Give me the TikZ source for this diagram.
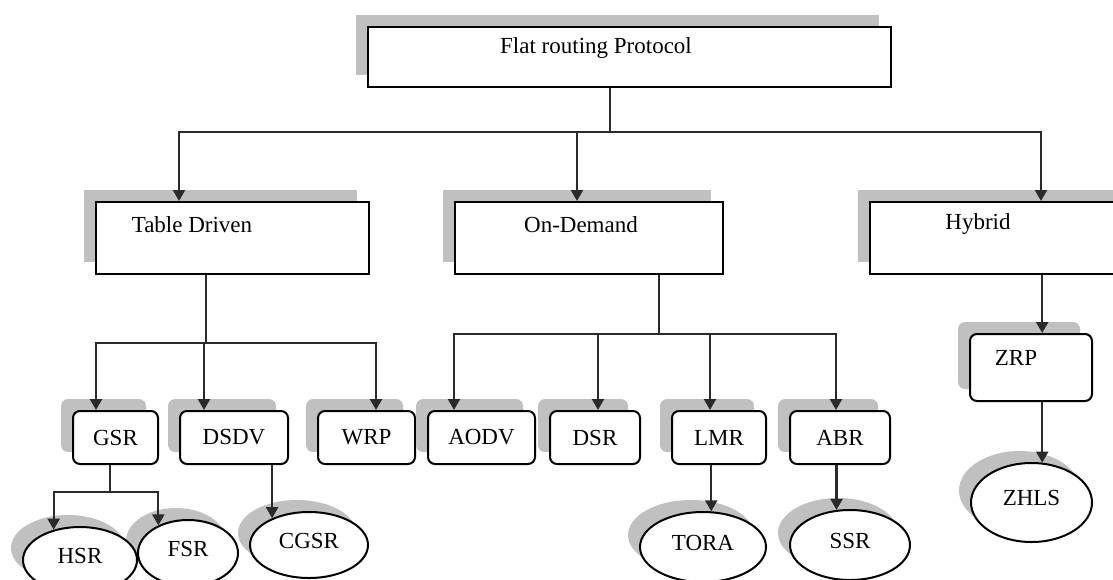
\documentclass[tikz,border=0pt]{standalone}
\usepackage{fontspec}
\setmainfont{Liberation Serif}
\usetikzlibrary{arrows.meta,shapes.geometric,shadows}
\definecolor{shadowgray}{HTML}{C0C0C0}
\definecolor{wiregray}{HTML}{2A2A2A}

\begin{document}
\begin{tikzpicture}[x=1pt,y=-1pt,>={Triangle[length=11pt,width=12pt]}]
\tikzset{every node/.style={font=\fontsize{23}{26}\selectfont},
 grayback/.style={drop shadow={shadow xshift=-12pt,shadow yshift=12pt,fill=shadowgray,opacity=1}},
 box/.style={draw=black,line width=2pt,fill=white,inner sep=0pt,grayback},
 rbox/.style={box,rounded corners=7pt,minimum height=53},
 oval/.style={box,ellipse,text depth=9pt},
 wire/.style={draw=wiregray,line width=2.2pt}}
\useasboundingbox (0,0) rectangle (1113,579);
\clip (0,0) rectangle (1113,579);

\node[box,minimum width=523,minimum height=60] (flat) at (629.5,57) {};
\node (flattext) at (596,48) {Flat routing Protocol};
\node[box,minimum width=273,minimum height=72] (td) at (232.5,238) {};
\node (tdtext) at (192,225) {Table Driven};
\node[box,minimum width=268,minimum height=72] (od) at (589,238) {};
\node (odtext) at (581,225) {On-Demand};
\node[box,minimum width=270,minimum height=72] (hy) at (1005,238) {};
\node (hytext) at (978,224) {Hybrid};

\node[rbox,minimum width=85] (gsr) at (115.5,437.5) {GSR};
\node[rbox,minimum width=108] (dsdv) at (234,437.5) {DSDV};
\node[rbox,minimum width=97] (wrp) at (366.5,437.5) {WRP};
\node[rbox,minimum width=107] (aodv) at (481.5,437.5) {AODV};
\node[rbox,minimum width=90] (dsr) at (595,437.5) {DSR};
\node[rbox,minimum width=94] (lmr) at (719,437.5) {LMR};
\node[rbox,minimum width=100] (abr) at (840,437.5) {ABR};
\node[rbox,minimum width=122,minimum height=67] (zrp) at (1031,367.5) {};
\node (zrptext) at (1016,358) {ZRP};

\node[oval,minimum width=100,minimum height=66] (fsr) at (188,553) {FSR};
\node[oval,minimum width=114,minimum height=66] (hsr) at (80,560) {HSR};
\node[oval,minimum width=118,minimum height=66] (cgsr) at (309,545) {CGSR};
\node[oval,minimum width=126,minimum height=70] (tora) at (703,547) {TORA};
\node[oval,minimum width=120,minimum height=70] (ssr) at (850,545) {SSR};
\node[oval,minimum width=121,minimum height=79] (zhls) at (1031.5,502.5) {ZHLS};

\coordinate (fj) at (610,132);
\draw[wire] (flat.south -| fj) -- (fj);
\draw[wire,->] (fj) -| ([xshift=84pt]td.north west);
\draw[wire,->] (fj) -| ([xshift=123pt]od.north west);
\draw[wire,->] (fj) -| ([xshift=172pt]hy.north west);

\coordinate (tj) at (206,343);
\draw[wire] (td.south -| tj) -- (tj);
\draw[wire,->] (tj) -| ([xshift=24pt]gsr.north west);
\draw[wire,->] (tj) -| ([xshift=25pt]dsdv.north west);
\draw[wire,->] (tj) -| ([xshift=59pt]wrp.north west);

\coordinate (oj) at (659,334);
\draw[wire] (od.south -| oj) -- (oj);
\draw[wire,->] (oj) -| ([xshift=27pt]aodv.north west);
\draw[wire,->] (oj) -| ([xshift=49pt]dsr.north west);
\draw[wire,->] (oj) -| ([xshift=39pt]lmr.north west);
\draw[wire,->] (oj) -| ([xshift=47pt]abr.north west);

\coordinate (gj) at (110,492);
\draw[wire] (gsr.south -| gj) -- (gj);
\draw[wire,->] (gj) -| (hsr.131);
\draw[wire,->] (gj) -| (fsr.137);
\draw[wire,->] (dsdv.south -| cgsr.144) -- (cgsr.144);
\draw[wire,->] (lmr.south -| tora.77) -- (tora.77);
\draw[wire,->] (abr.south -| ssr.111) -- (ssr.111);

\draw[wire,->] (hy.south -| zhls.75) -- (zrp.north -| zhls.75);
\draw[wire,->] (zrp.south -| zhls.75) -- (zhls.75);
\end{tikzpicture}
\end{document}
